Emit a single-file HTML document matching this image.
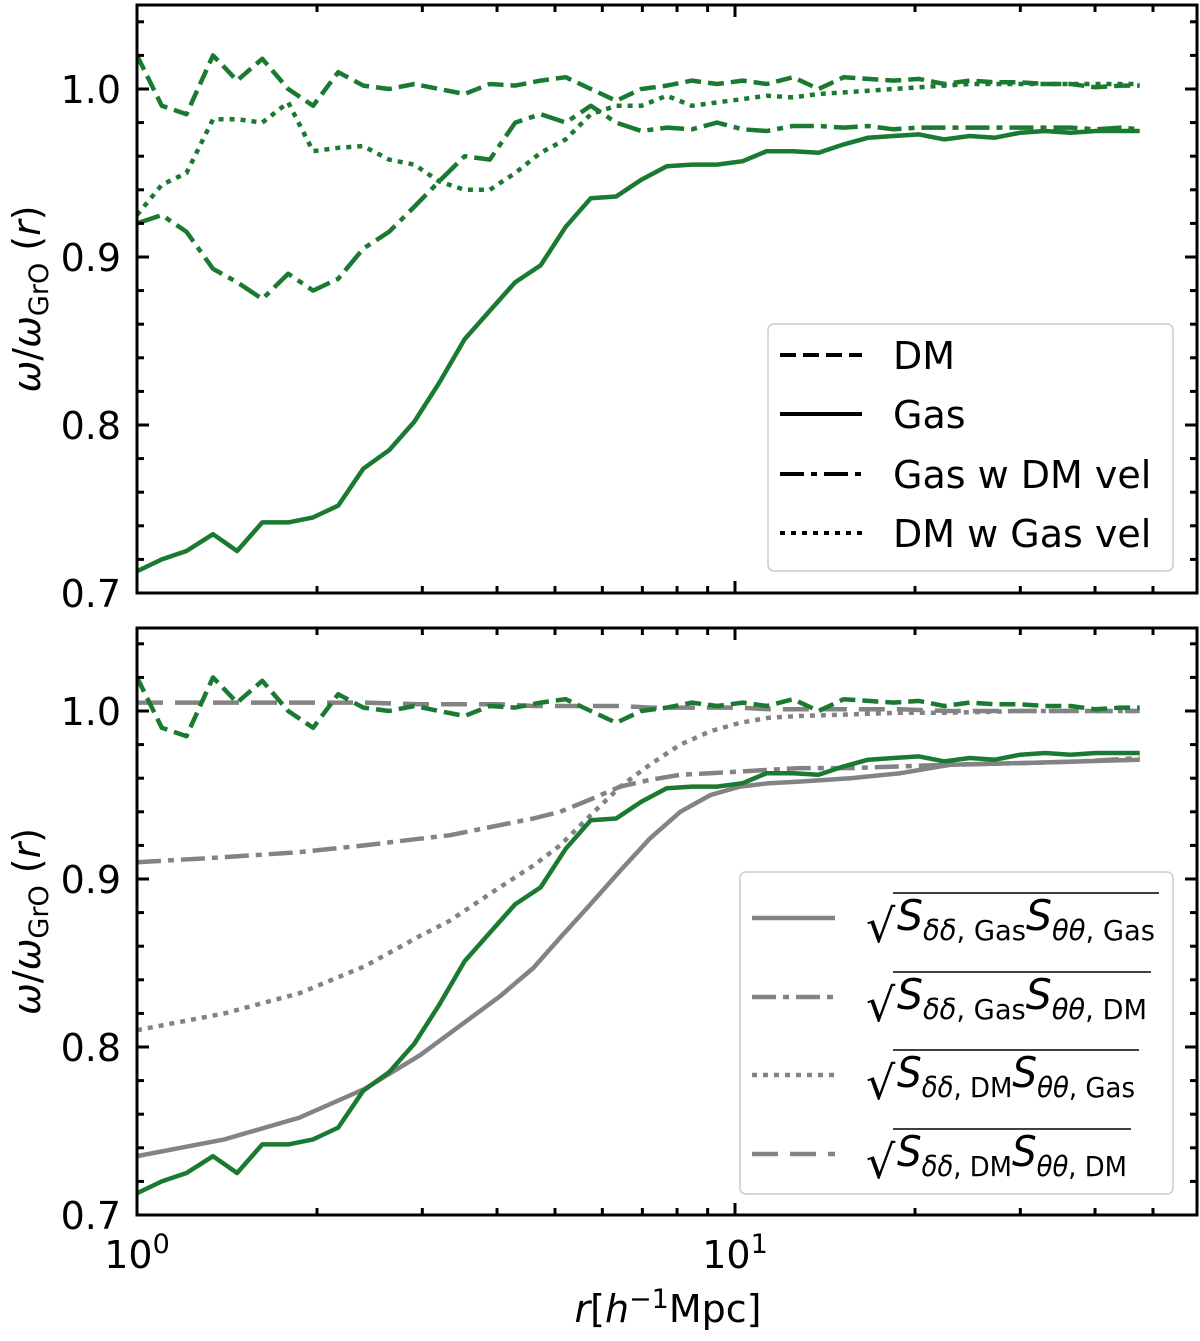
<!DOCTYPE html>
<html><head><meta charset="utf-8"><style>
body{margin:0;background:#fff}
svg{display:block;font-family:"DejaVu Sans","Liberation Sans",sans-serif}
</style></head><body>
<svg id="chart" width="1200" height="1341" viewBox="0 0 1200 1341" xmlns="http://www.w3.org/2000/svg">
<g id="top"></g>
<g id="bot"></g>
<g>
<rect x="768" y="324" width="405" height="247" rx="6" fill="#fff" stroke="#ccc" stroke-width="1.5"/>
<line x1="780" y1="355" x2="862" y2="355" stroke="#000" stroke-width="4" stroke-dasharray="16 7"/>
<text x="893" y="369" font-size="38">DM</text>
<line x1="780" y1="414" x2="862" y2="414" stroke="#000" stroke-width="4"/>
<text x="893" y="428" font-size="38">Gas</text>
<line x1="780" y1="474" x2="862" y2="474" stroke="#000" stroke-width="4" stroke-dasharray="24 7 6 7"/>
<text x="893" y="488" font-size="38">Gas w DM vel</text>
<line x1="780" y1="533" x2="862" y2="533" stroke="#000" stroke-width="4" stroke-dasharray="5 6"/>
<text x="893" y="547" font-size="38">DM w Gas vel</text>
</g>
<g id="blegend">
<rect x="740" y="872" width="433" height="322" rx="6" fill="#fff" stroke="#ccc" stroke-width="1.5"/>
</g>
<text x="668" y="1322" font-size="38" text-anchor="middle"><tspan font-style="italic">r</tspan>[<tspan font-style="italic">h</tspan><tspan dy="-14" font-size="27">−1</tspan><tspan dy="14">Mpc]</tspan></text>
</svg>
<script>
const rGrid=[1.00,1.10,1.21,1.34,1.47,1.62,1.79,1.97,2.17,2.39,2.64,2.91,3.20,3.53,3.89,4.29,4.73,5.21,5.74,6.33,6.97,7.69,8.47,9.33,10.3,11.3,12.5,13.8,15.2,16.7,18.4,20.3,22.4,24.7,27.2,30.0,33.0,36.4,40.1,44.2,47.5];
const gasVals=[.713,.72,.725,.735,.725,.742,.742,.745,.752,.774,.785,.802,.825,.851,.868,.885,.895,.918,.935,.936,.946,.954,.955,.955,.957,.963,.963,.962,.967,.971,.972,.973,.970,.972,.971,.974,.975,.974,.975,.975,.975];
const dmVals=[1.02,.99,.985,1.02,1.005,1.018,1.0,.99,1.01,1.002,1.0,1.003,1.0,.997,1.003,1.002,1.005,1.007,1.0,.993,1.0,1.002,1.005,1.003,1.005,1.003,1.007,1.0,1.007,1.006,1.005,1.006,1.003,1.005,1.004,1.004,1.003,1.003,1.001,1.002,1.002];
const gasDmVelVals=[.92,.925,.915,.893,.885,.875,.89,.88,.887,.905,.915,.93,.945,.96,.958,.98,.985,.98,.99,.98,.975,.977,.976,.98,.976,.975,.978,.978,.977,.978,.976,.977,.977,.977,.977,.977,.977,.977,.976,.977,.976];
const dmGasVelVals=[.925,.943,.95,.982,.982,.98,.992,.963,.965,.966,.958,.955,.945,.94,.94,.95,.962,.97,.985,.99,.99,.996,.99,.992,.994,.996,.995,.997,.998,.999,1.0,1.001,1.002,1.003,1.003,1.003,1.003,1.003,1.003,1.003,1.003];
const rModel=[1.0,1.4,1.87,2.4,2.97,3.33,4.04,4.6,5.1,5.7,6.43,7.2,8.1,9.1,10.2,11.4,12.8,15.6,18.9,22.9,30,38,47.5];
const mGasGas=[.735,.745,.758,.775,.795,.808,.83,.847,.865,.884,.905,.924,.94,.95,.955,.957,.958,.96,.963,.968,.969,.97,.971];
const mGasDm=[.91,.913,.916,.92,.924,.926,.932,.936,.94,.947,.955,.959,.962,.963,.964,.965,.966,.966,.967,.968,.969,.97,.972];
const mDmGas=[.81,.82,.832,.848,.866,.875,.895,.908,.92,.937,.955,.968,.98,.988,.993,.996,.997,.998,.999,.999,1.0,1.0,1.0];
const mDmDm=[1.005,1.005,1.005,1.005,1.004,1.004,1.004,1.003,1.003,1.003,1.003,1.002,1.002,1.002,1.002,1.001,1.001,1.001,1.001,1.0,1.0,1.0,1.0];
const yTicks=[0.7,0.8,0.9,1.0];
const yTickLabels=["0.7","0.8","0.9","1.0"];

const NS="http://www.w3.org/2000/svg";
const X0=137,X1=1197,DEC=598;
const xs=r=>X0+DEC*Math.log10(r);
function mk(tag,attrs,parent){const e=document.createElementNS(NS,tag);for(const k in attrs)e.setAttribute(k,attrs[k]);parent.appendChild(e);return e;}
const GREEN="#1b7a31",GRAY="#838383";
const DASH={solid:"",dash:"16 7",dashdot:"24 7 6 7",dot:"5 6",gdash:"26 12"};
function panel(g,top,bottom,name){
  const ys=v=>bottom-(v-0.7)*1680;
  const clipId=name+"-clip";
  const cp=mk("clipPath",{id:clipId},g);mk("rect",{x:X0,y:top,width:X1-X0,height:bottom-top},cp);
  const plot=mk("g",{"clip-path":"url(#"+clipId+")"},g);
  function line(rs,vals,color,dash,nm){
    const d=rs.map((r,i)=>(i?"L":"M")+xs(r).toFixed(1)+","+ys(vals[i]).toFixed(1)).join("");
    const p=mk("path",{d:d,fill:"none",stroke:color,"stroke-width":4.5,"stroke-dasharray":dash,"stroke-linejoin":"round"},plot);
    
    
  }
  const ax=mk("g",{},g);
  
  
  for(let v=0.7;v<1.051;v+=0.02){
    const y=ys(v);const major=Math.abs(Math.round(v*10)-v*10)<1e-6;const L=major?12:7;
    mk("line",{x1:X0,y1:y,x2:X0+L,y2:y,stroke:"#000","stroke-width":3},ax);
    mk("line",{x1:X1,y1:y,x2:X1-L,y2:y,stroke:"#000","stroke-width":3},ax);
  }
  yTicks.forEach((v,i)=>{
    const t=mk("text",{x:121,y:ys(v)+14,"font-size":38,"text-anchor":"end"},g);t.textContent=yTickLabels[i];
    
    
  });
  for(let dec=0;dec<2;dec++)for(let m=1;m<10;m++){
    const r=m*Math.pow(10,dec);const x=xs(r);if(x>X1)continue;const L=m===1?12:7;
    mk("line",{x1:x,y1:bottom,x2:x,y2:bottom-L,stroke:"#000","stroke-width":3},ax);
    mk("line",{x1:x,y1:top,x2:x,y2:top+L,stroke:"#000","stroke-width":3},ax);
  }
  mk("rect",{x:X0,y:top,width:X1-X0,height:bottom-top,fill:"none",stroke:"#000","stroke-width":3},ax);
  const yl=mk("text",{transform:"translate(40,"+((top+bottom)/2)+") rotate(-90)","font-size":38,"text-anchor":"middle"},g);
  yl.innerHTML='<tspan font-style="italic">ω</tspan>/<tspan font-style="italic">ω</tspan><tspan dy="8" font-size="27">GrO</tspan><tspan dy="-8"> (</tspan><tspan font-style="italic">r</tspan>)';
  
  
  return line;
}
const topLine=panel(document.getElementById("top"),5,593,"top");
topLine(rGrid,dmVals,GREEN,DASH.dash,"top-dm-series");
topLine(rGrid,gasVals,GREEN,DASH.solid,"top-gas-series");
topLine(rGrid,gasDmVelVals,GREEN,DASH.dashdot,"top-gas-dmvel-series");
topLine(rGrid,dmGasVelVals,GREEN,DASH.dot,"top-dm-gasvel-series");
const botLine=panel(document.getElementById("bot"),628,1215,"bottom");
botLine(rModel,mDmDm,GRAY,DASH.gdash,"model-dm-dm");
botLine(rModel,mDmGas,GRAY,DASH.dot,"model-dm-gas");
botLine(rModel,mGasDm,GRAY,DASH.dashdot,"model-gas-dm");
botLine(rModel,mGasGas,GRAY,DASH.solid,"model-gas-gas");
botLine(rGrid,dmVals,GREEN,DASH.dash,"bottom-dm-series");
botLine(rGrid,gasVals,GREEN,DASH.solid,"bottom-gas-series");
const svg=document.getElementById("chart");
[[1,"0"],[10,"1"]].forEach(([r,e])=>{
  const t=mk("text",{x:xs(r),y:1268,"font-size":38,"text-anchor":"middle"},svg);
  t.innerHTML='10<tspan dy="-15" font-size="27">'+e+'</tspan>';
  
  
});
const bl=document.getElementById("blegend");
const legItems=[["solid","Gas","Gas"],["dashdot","Gas","DM"],["dot","DM","Gas"],["gdash","DM","DM"]];
const legY=[918,997,1075,1154];
legItems.forEach((it,i)=>{
  const y=legY[i];
  const l=mk("line",{x1:752,y1:y,x2:835,y2:y,stroke:GRAY,"stroke-width":4.5,"stroke-dasharray":DASH[it[0]]},bl);
  
  
  const s=mk("text",{x:866,y:y+24,"font-size":46},bl);s.textContent="√";
  
  
  const w=it[2]==="Gas"?(it[1]==="Gas"?266:246):(it[1]==="Gas"?258:238);
  mk("line",{x1:893,y1:y-25,x2:893+w,y2:y-25,stroke:"#000","stroke-width":1.5},bl);
  const t=mk("text",{x:897,y:y+12,"font-size":42,textLength:w-8,lengthAdjust:"spacingAndGlyphs"},bl);
  t.innerHTML='<tspan font-style="italic">S</tspan><tspan dy="10" font-size="28"><tspan font-style="italic">δδ</tspan>, '+it[1]+'</tspan><tspan dy="-10" font-style="italic">S</tspan><tspan dy="10" font-size="28"><tspan font-style="italic">θθ</tspan>, '+it[2]+'</tspan>';
  
  
});
</script>
</body></html>
